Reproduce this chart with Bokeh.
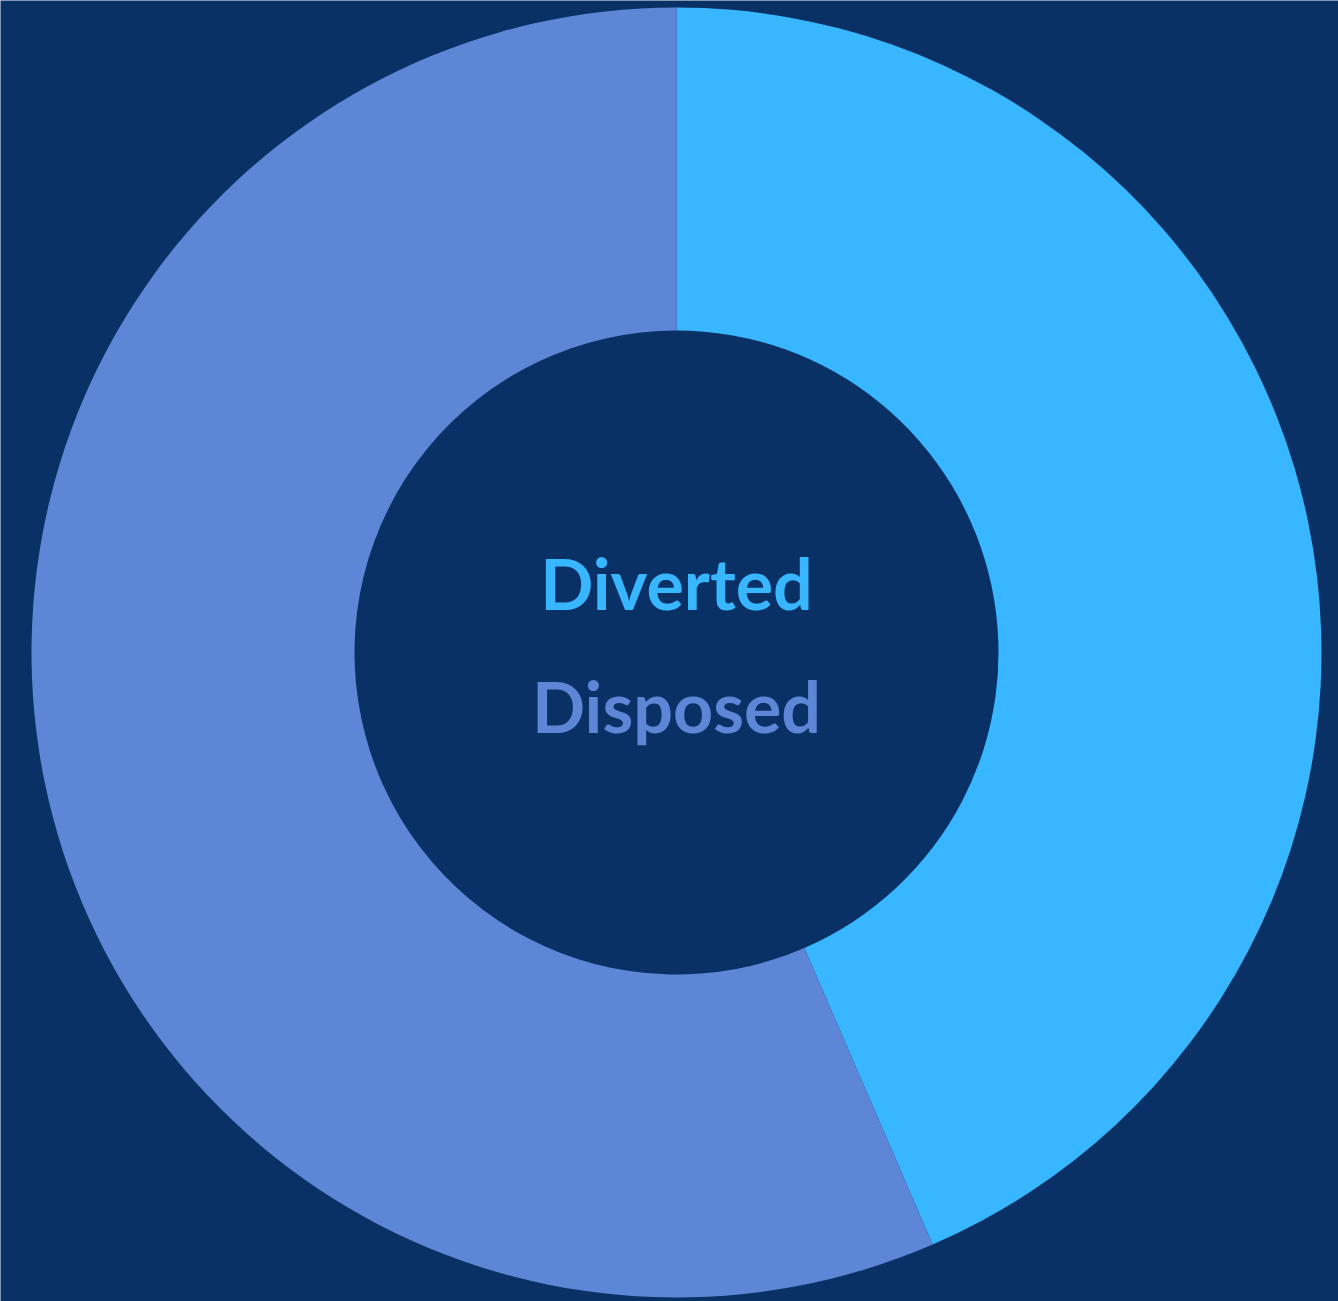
import math
from bokeh.plotting import figure
from bokeh.models import ColumnDataSource, Range1d
from bokeh.core.properties import value
from bokeh.embed import file_html
from bokeh.resources import INLINE

categories = ["Diverted", "Disposed"]
shares = [43.5, 56.5]
colors = ["#38b6ff", "#5d87d6"]
label_y = [70, -53]

W, H = 1338, 1301
CX, CY = 676, 652
BG = "#0a3166"

total = sum(shares)
starts, ends = [], []
acc = 0.0
for s in shares:
    a0 = math.pi / 2 - 2 * math.pi * acc / total
    acc += s
    a1 = math.pi / 2 - 2 * math.pi * acc / total
    starts.append(a0)
    ends.append(a1)

src = ColumnDataSource(dict(cat=categories, val=shares, start=starts, end=ends, color=colors,
                            lx=[0, 0], ly=label_y))

p = figure(width=W, height=H, output_backend="svg", toolbar_location=None,
           x_range=Range1d(-CX, W - CX), y_range=Range1d(-(H - CY), CY),
           min_border=0, background_fill_color=BG, border_fill_color=BG)
p.axis.visible = False
p.grid.visible = False
p.outline_line_color = None

p.annular_wedge(x=0, y=0, inner_radius=322, outer_radius=645, start_angle="start", end_angle="end",
                direction="clock", fill_color="color", line_color=None, source=src)

p.text(x="lx", y="ly", text="cat", text_color="color", text_align="center", text_baseline="middle",
       text_font=value("Lato"), text_font_style="bold", text_font_size="70px", source=src)

open("out.html", "w").write(file_html(p, INLINE))
